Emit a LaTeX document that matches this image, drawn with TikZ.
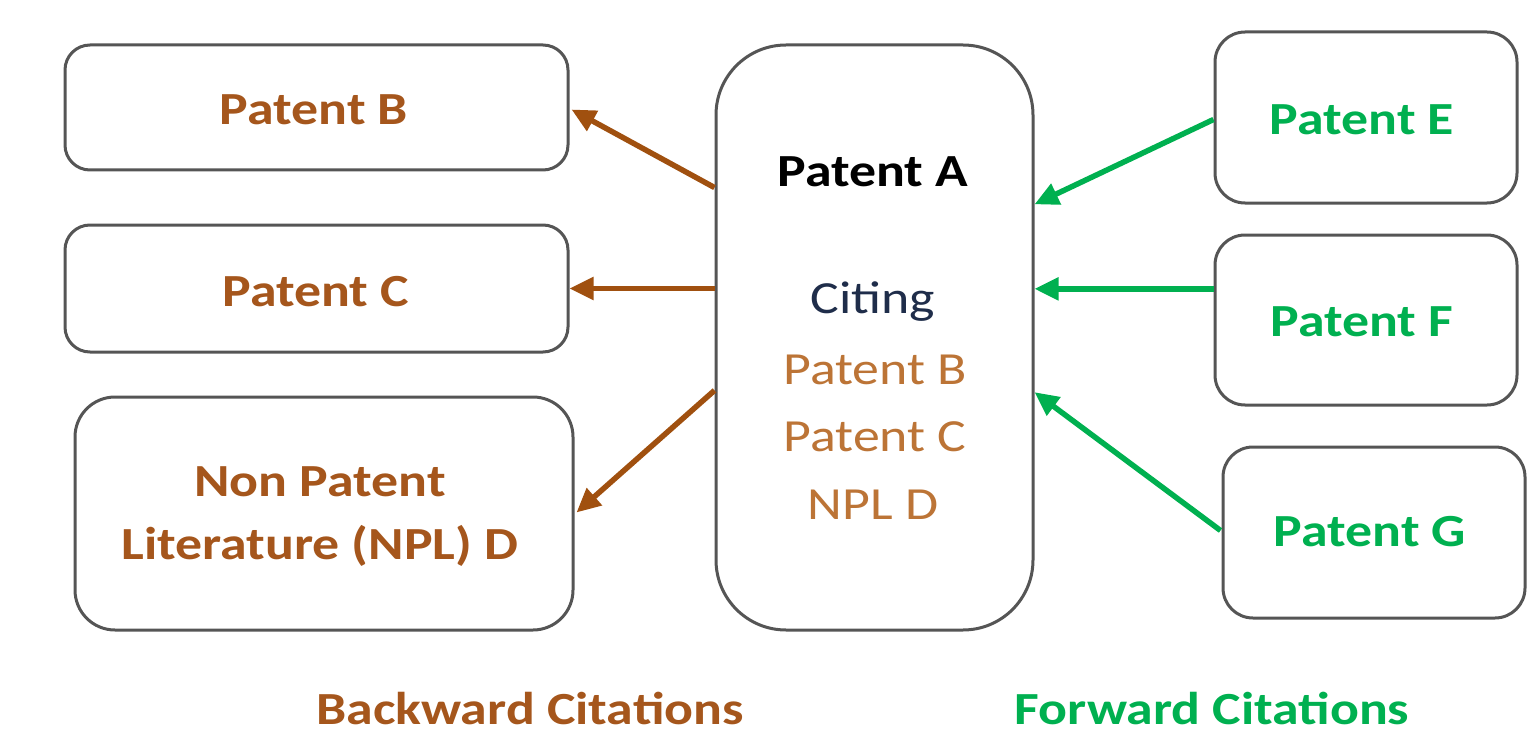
\documentclass[tikz,border=0pt]{standalone}
\usepackage{fontspec}
\setmainfont{Carlito}[FakeStretch=1.17]
\usetikzlibrary{arrows.meta,calc}
\definecolor{brownT}{HTML}{A5561C}
\definecolor{brownL}{HTML}{BC7436}
\definecolor{brownA}{HTML}{A0500F}
\definecolor{greenT}{HTML}{00B050}
\definecolor{navyT}{HTML}{1F2D4A}
\definecolor{boxline}{HTML}{555555}
\tikzset{
  box/.style={draw=boxline,line width=3pt,fill=white,inner sep=0pt},
  lbl/.style={font=\fontsize{46}{62}\selectfont\bfseries,align=center},
  lst/.style={font=\fontsize{46}{62}\selectfont},
  barr/.style={draw=brownA,line width=5.5pt,-{Triangle[length=24pt,width=22pt]}},
  garr/.style={draw=greenT,line width=5.5pt,-{Triangle[length=24pt,width=22pt]}}
}
\begin{document}
\begin{tikzpicture}[x=1pt,y=-1pt]
\useasboundingbox (0,0) rectangle (1540,733);
% left boxes
\node[box,rounded corners=25pt,minimum width=503pt,minimum height=125pt] (B) at (316.5,107.5) {};
\node[box,rounded corners=25pt,minimum width=503pt,minimum height=127pt] (C) at (316.5,288.5) {};
\node[box,rounded corners=40pt,minimum width=498pt,minimum height=233pt] (D) at (324,513.5) {};
% center
\node[box,rounded corners=70pt,minimum width=317pt,minimum height=585pt] (A) at (874.5,337.5) {};
% right boxes
\node[box,rounded corners=30pt,minimum width=302pt,minimum height=171pt] (E) at (1366,117.5) {};
\node[box,rounded corners=30pt,minimum width=302pt,minimum height=170pt] (F) at (1366,320) {};
\node[box,rounded corners=30pt,minimum width=302pt,minimum height=171pt] (G) at (1374,532.5) {};
% texts
\node[lbl,text=brownT] (tB) at (314,110) {Patent B};
\node[lbl,text=brownT] (tC) at (316,292) {Patent C};
\node[lbl,text=brownT] (tD1) at (320,482) {Non Patent};
\node[lbl,text=brownT] (tD2) at (320,546) {Literature (NPL) D};
\node[lbl,text=black] (tA) at (873,172) {Patent A};
\node[lst,text=navyT] (tA1) at (873,302) {Citing};
\node[lst,text=brownL] (tA2) at (875,370) {Patent B};
\node[lst,text=brownL] (tA3) at (875,437) {Patent C};
\node[lst,text=brownL] (tA4) at (873,505) {NPL D};
\node[lbl,text=greenT] (tE) at (1362,120) {Patent E};
\node[lbl,text=greenT] (tF) at (1362,322) {Patent F};
\node[lbl,text=greenT] (tG) at (1370,532) {Patent G};
\node[lbl,text=brownT,inner sep=0pt] (back) at (530,708) {Backward Citations};
\node[lbl,text=greenT,inner sep=0pt] (fwd) at (1212,708) {Forward Citations};
% arrows
\coordinate (a1) at ($(A.north west)!0.245!(A.south west)$);
\coordinate (a3) at ($(A.north west)!0.59!(A.south west)$);
\draw[barr] (a1) -- ($(B.east)+(2,2)$);
\draw[barr] (A.west |- C.east) -- (C.east);
\draw[barr] (a3) -- ($(D.east)+(2,-1)$);
\coordinate (e1) at ($(A.north east)!0.2735!(A.south east)$);
\coordinate (f0) at ($(F.north west)!0.32!(F.south west)$);
\coordinate (g1) at ($(A.north east)!0.593!(A.south east)$);
\draw[garr] ($(E.west)+(0,2)$) -- (e1);
\draw[garr] (f0) -- (A.east |- f0);
\draw[garr] ($(G.west)+(-1,-2)$) -- (g1);
\end{tikzpicture}
\end{document}
